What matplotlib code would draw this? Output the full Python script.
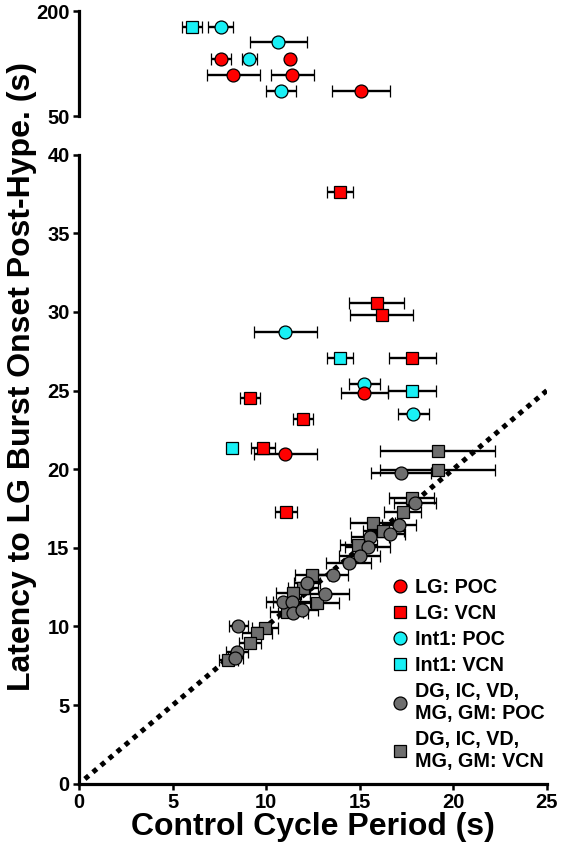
import matplotlib
matplotlib.use('Agg')
import matplotlib.pyplot as plt
from matplotlib.lines import Line2D

plt.rcParams['font.family'] = ['Liberation Sans', 'DejaVu Sans']
plt.rcParams['font.weight'] = 'bold'

RED = '#ff0000'
CYAN = '#19f0f5'
GRAY = '#6e6e6e'

# LG: POC (red circles) - main panel
lg_poc_x = [15.24, 11.02]
lg_poc_y = [24.83, 20.95]
lg_poc_xerr = [1.27, 1.68]
# LG: POC - upper (broken) panel
lg_poc_top_x = [7.59, 11.27, 8.24, 11.4, 15.06]
lg_poc_top_y = [131, 131, 108.6, 108.6, 86]
lg_poc_top_xerr = [0.55, 0.15, 1.4, 1.13, 1.57]

# LG: VCN (red squares)
lg_vcn_x = [13.94, 15.9, 16.17, 17.81, 9.13, 11.98, 9.84, 11.04]
lg_vcn_y = [37.65, 30.59, 29.8, 27.09, 24.55, 23.19, 21.33, 17.28]
lg_vcn_xerr = [0.71, 1.49, 1.68, 1.27, 0.51, 0.53, 0.65, 0.58]

# Int1: POC (cyan circles)
int_poc_x = [11.02, 15.24, 17.86]
int_poc_y = [28.7, 25.42, 23.49]
int_poc_xerr = [1.68, 0.83, 0.83]
int_poc_top_x = [7.57, 10.65, 9.1, 10.79]
int_poc_top_y = [177.6, 155.3, 131, 86]
int_poc_top_xerr = [0.67, 1.51, 0.38, 0.8]

# Int1: VCN (cyan squares)
int_vcn_x = [13.94, 17.81, 8.18]
int_vcn_y = [27.09, 25.0, 21.33]
int_vcn_xerr = [0.7, 1.28, 0.0]
int_vcn_top_x = [6.02]
int_vcn_top_y = [177.6]
int_vcn_top_xerr = [0.53]

# DG, IC, VD, MG, GM: POC (gray circles)
oth_poc_x = [17.2, 17.95, 17.1, 16.6, 15.55, 15.42, 15.0, 14.4, 13.58, 12.16,
             13.14, 10.91, 11.36, 11.44, 11.89, 8.5, 8.42, 8.33]
oth_poc_y = [19.78, 17.87, 16.45, 15.88, 15.71, 15.03, 14.48, 14.05, 13.3, 12.74,
             12.05, 11.57, 11.57, 10.84, 11.05, 10.03, 8.39, 7.97]
oth_poc_xerr = [1.62, 1.13, 0.9, 0.8, 1.0, 1.2, 1.1, 1.2, 0.8, 0.7,
                1.3, 0.9, 1.0, 0.8, 0.9, 0.5, 0.6, 0.4]

# DG, IC, VD, MG, GM: VCN (gray squares)
oth_vcn_x = [19.16, 19.16, 17.77, 17.29, 15.7, 16.26, 14.92, 12.45, 11.98, 11.44,
             12.69, 11.09, 9.93, 9.49, 9.13, 7.97]
oth_vcn_y = [21.18, 19.97, 18.15, 17.3, 16.56, 16.06, 15.18, 13.27, 12.42, 12.11,
             11.51, 10.94, 9.88, 9.56, 8.93, 7.87]
oth_vcn_xerr = [3.07, 3.07, 1.2, 1.0, 1.2, 1.1, 1.0, 0.9, 0.8, 0.9,
                1.2, 0.9, 0.7, 0.8, 0.6, 0.5]

unity = [0.3, 25]

fig = plt.figure(figsize=(5.62, 8.52), dpi=100)
ax_top = fig.add_axes([0.141, 0.8638, 0.832, 0.1232])
ax = fig.add_axes([0.141, 0.0802, 0.832, 0.7382])

ms = 9.3
def plot_set(a, x, y, xerr, marker, color, z=3):
    a.errorbar(x, y, xerr=xerr, fmt=marker, mfc=color, mec='black', mew=0.9, ms=ms,
               ecolor='black', elinewidth=1.7, capsize=4.5, capthick=1.7,
               zorder=z, clip_on=False)

ax.plot(unity, unity, color='black', lw=3.6, linestyle=(0, (1, 1.1)), zorder=1)

plot_set(ax, oth_vcn_x, oth_vcn_y, oth_vcn_xerr, 's', GRAY)
plot_set(ax, oth_poc_x, oth_poc_y, oth_poc_xerr, 'o', GRAY)
plot_set(ax, lg_vcn_x, lg_vcn_y, lg_vcn_xerr, 's', RED)
plot_set(ax, int_vcn_x, int_vcn_y, int_vcn_xerr, 's', CYAN)
plot_set(ax, int_poc_x, int_poc_y, int_poc_xerr, 'o', CYAN)
plot_set(ax, lg_poc_x, lg_poc_y, lg_poc_xerr, 'o', RED)

plot_set(ax_top, int_vcn_top_x, int_vcn_top_y, int_vcn_top_xerr, 's', CYAN)
plot_set(ax_top, int_poc_top_x, int_poc_top_y, int_poc_top_xerr, 'o', CYAN)
plot_set(ax_top, lg_poc_top_x, lg_poc_top_y, lg_poc_top_xerr, 'o', RED)

ax.set_xlim(0, 25)
ax.set_ylim(0, 40)
ax.set_xticks([0, 5, 10, 15, 20, 25])
ax.set_yticks([0, 5, 10, 15, 20, 25, 30, 35, 40])
ax_top.set_xlim(0, 25)
ax_top.set_ylim(50, 200)
ax_top.set_yticks([50, 200])
ax_top.set_xticks([])

for a in (ax, ax_top):
    for s in ('top', 'right'):
        a.spines[s].set_visible(False)
    a.spines['left'].set_linewidth(2.3)
    a.spines['bottom'].set_linewidth(2.3)
    a.tick_params(width=1.8, length=4, labelsize=14.5, pad=3)
ax_top.spines['bottom'].set_visible(False)

ax.set_xlabel('Control Cycle Period (s)', fontsize=23, fontweight='bold', labelpad=0)
ax.set_ylabel('Latency to LG Burst Onset Post-Hype. (s)', fontsize=23, fontweight='bold')
ax.yaxis.set_label_coords(-0.09, 0.647)

def h(marker, color):
    return Line2D([], [], ls='none', marker=marker, mfc=color, mec='black', mew=0.9, ms=ms)

handles = [h('o', RED), h('s', RED), h('o', CYAN), h('s', CYAN), h('o', GRAY), h('s', GRAY)]
labels = ['LG: POC', 'LG: VCN', 'Int1: POC', 'Int1: VCN',
          'DG, IC, VD,\nMG, GM: POC', 'DG, IC, VD,\nMG, GM: VCN']
fig.legend(handles, labels, loc='lower left', bbox_to_anchor=(0.697, 0.095),
           bbox_transform=fig.transFigure, frameon=False, fontsize=14.2,
           handlelength=0.8, handletextpad=0.4, labelspacing=0.36,
           borderpad=0, borderaxespad=0)

fig.savefig('out.png', dpi=100)
